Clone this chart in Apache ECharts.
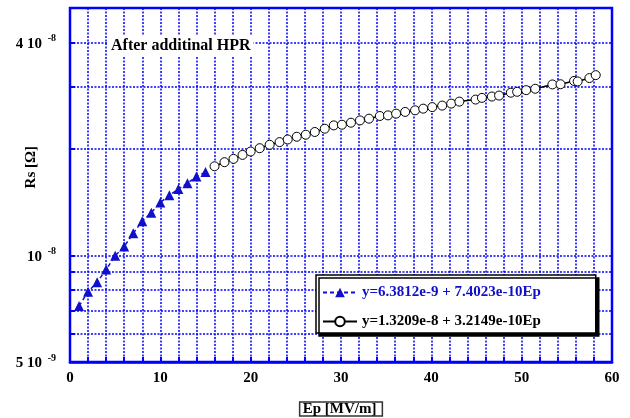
<!DOCTYPE html>
<html><head><meta charset="utf-8">
<script src="https://cdn.jsdelivr.net/npm/echarts@6/dist/echarts.min.js"></script>
<style>html,body{margin:0;padding:0;background:#fff}#c{width:630px;height:418px}</style>
</head><body><div id="c"></div>
<script>
// ---- data ----
var blueName = 'y=6.3812e-9 + 7.4023e-10Ep';
var blackName = 'y=1.3209e-8 + 3.2149e-10Ep';
var blueEp = [1,2,3,4,5,6,7,8,9,10,11,12,13,14,15];
var blueRs = [7.2e-9,7.9e-9,8.4e-9,9.12e-9,9.98e-9,1.06e-8,1.155e-8,1.25e-8,1.32e-8,1.41e-8,1.48e-8,1.54e-8,1.60e-8,1.67e-8,1.72e-8];
var blackEp = [16.0,17.1,18.1,19.1,20.0,21.0,22.1,23.2,24.1,25.1,26.1,27.1,28.2,29.2,30.1,31.1,32.1,33.1,34.3,35.2,36.1,37.1,38.2,39.1,40.1,41.2,42.2,43.1,44.9,45.6,46.7,47.5,48.8,49.5,50.5,51.5,53.4,54.3,55.8,56.2,57.5,58.2];
var blackRs = [1.786e-8,1.834e-8,1.874e-8,1.923e-8,1.966e-8,2.009e-8,2.054e-8,2.090e-8,2.126e-8,2.164e-8,2.193e-8,2.232e-8,2.280e-8,2.330e-8,2.340e-8,2.371e-8,2.407e-8,2.434e-8,2.477e-8,2.487e-8,2.515e-8,2.543e-8,2.570e-8,2.598e-8,2.624e-8,2.650e-8,2.685e-8,2.720e-8,2.756e-8,2.787e-8,2.811e-8,2.829e-8,2.882e-8,2.899e-8,2.930e-8,2.957e-8,3.041e-8,3.045e-8,3.111e-8,3.101e-8,3.170e-8,3.231e-8];
var yGridValues = [6e-9,7e-9,8e-9,9e-9,1e-8,2e-8,3e-8,4e-8];
var yTickValues = [5e-9,1e-8,4e-8];
var yTickMain = ['5 10','10','4 10'];
var yTickExp = ['-9','-8','-8'];
var xTickStep = 10;

var BLUE = '#0000ff';
var MARK_BLUE = '#1010cc';
var SERIF = '"Liberation Serif","Times New Roman",serif';

function pairs(xs, ys){ return xs.map(function(x,i){ return [x, ys[i]]; }); }
function tickText(v){
  for (var i = 0; i < yTickValues.length; i++) {
    if (Math.abs(v - yTickValues[i]) / yTickValues[i] < 1e-6) return '{a|' + yTickMain[i] + ' }{s|' + yTickExp[i] + '}';
  }
  return '';
}

var chart = echarts.init(document.getElementById('c'), null, {renderer: 'canvas'});
chart.setOption({
  animation: false,
  backgroundColor: '#fff',
  title: {
    text: 'After additinal HPR', left: 108, top: 36, padding: [2, 3, 2, 3],
    backgroundColor: '#fff',
    textStyle: {fontFamily: SERIF, fontWeight: 'bold', fontSize: 16, color: '#000'}
  },
  grid: {left: 70, right: 18, top: 8, bottom: 56, show: true, borderColor: BLUE, borderWidth: 2.5,
    backgroundColor: 'transparent', containLabel: false, outerBoundsMode: 'none'},
  xAxis: {
    type: 'value', min: 0, max: 60, interval: 2,
    name: 'Ep [MV/m]', nameLocation: 'middle', nameGap: 40,
    nameTextStyle: {fontFamily: SERIF, fontWeight: 'bold', fontSize: 15, color: '#000', borderColor: '#333', borderWidth: 1.5, padding: [0, 6, -1, 3]},
    axisLine: {show: true, lineStyle: {color: BLUE, width: 2.5}},
    axisTick: {show: true, inside: true, length: 5, lineStyle: {color: BLUE, width: 2}},
    axisLabel: {margin: 9, fontFamily: SERIF, fontWeight: 'bold', fontSize: 15, color: '#000',
      formatter: function(v){ return (v % xTickStep === 0) ? String(v) : ''; }},
    splitLine: {show: true, lineStyle: {color: BLUE, width: 1.5, type: [2, 1.5]}}
  },
  yAxis: {
    type: 'log', logBase: 10, min: 5e-9, max: 5e-8,
    axisLine: {show: false},
    axisTick: {show: true, inside: true, length: 5, customValues: yGridValues, lineStyle: {color: BLUE, width: 2}},
    axisLabel: {show: true, margin: 14, customValues: yTickValues, formatter: tickText,
      rich: {
        a: {fontFamily: SERIF, fontWeight: 'bold', fontSize: 15, color: '#000', verticalAlign: 'bottom', lineHeight: 18},
        s: {fontFamily: SERIF, fontWeight: 'bold', fontSize: 10, color: '#000', verticalAlign: 'top', lineHeight: 18, padding: [0, 0, 8, 2]}
      }},
    splitLine: {show: true, lineStyle: {color: BLUE, width: 1.5, type: [2, 1.5]}}
  },
  legend: {
    data: [
      {name: blueName, textStyle: {color: MARK_BLUE}},
      {name: blackName, textStyle: {color: '#000'}}
    ],
    orient: 'vertical', left: 316, top: 275,
    padding: [10, 55, 4, 6], itemGap: 14, itemWidth: 34, itemHeight: 12,
    backgroundColor: '#fff', borderColor: '#000', borderWidth: 1.5,
    shadowColor: '#000', shadowBlur: 0, shadowOffsetX: 3, shadowOffsetY: 3,
    textStyle: {fontFamily: SERIF, fontWeight: 'bold', fontSize: 15},
    selectedMode: false
  },
  graphic: [{
    type: 'text', left: 24, top: 146, rotation: Math.PI / 2,
    style: {text: 'Rs [Ω]', font: 'bold 15px ' + SERIF, fill: '#000'}
  }],
  series: [
    {
      type: 'line', name: blueName, data: pairs(blueEp, blueRs), z: 3,
      symbol: 'triangle', symbolSize: 10,
      itemStyle: {color: MARK_BLUE},
      lineStyle: {color: MARK_BLUE, width: 1.5, type: [4, 3]}
    },
    {
      type: 'line', name: blackName, data: pairs(blackEp, blackRs), z: 3,
      symbol: 'circle', symbolSize: 9, showAllSymbol: true,
      itemStyle: {color: '#fff', borderColor: '#000', borderWidth: 1},
      lineStyle: {color: '#000', width: 1.5}
    }
  ]
});
</script>
</body></html>
